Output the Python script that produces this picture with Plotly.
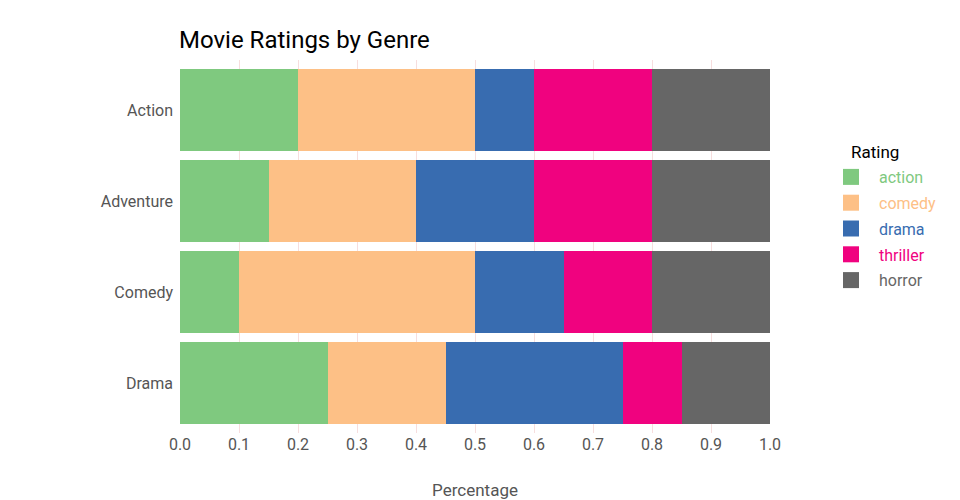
import plotly.graph_objects as go

genres = ["Action", "Adventure", "Comedy", "Drama"]
ratings = ["action", "comedy", "drama", "thriller", "horror"]
colors = ["#7fc97f", "#fdc086", "#386cb0", "#f0027f", "#666666"]
values = {
    "action":   [0.20, 0.15, 0.10, 0.25],
    "comedy":   [0.30, 0.25, 0.40, 0.20],
    "drama":    [0.10, 0.20, 0.15, 0.30],
    "thriller": [0.20, 0.20, 0.15, 0.10],
    "horror":   [0.20, 0.20, 0.20, 0.15],
}
x_ticks = [0.0, 0.1, 0.2, 0.3, 0.4, 0.5, 0.6, 0.7, 0.8, 0.9, 1.0]

FONT = "Roboto, sans-serif"
L, R, T, B = 180, 190, 60, 67
PW = 960 - L - R
PH = 500 - T - B

fig = go.Figure()
for r, c in zip(ratings, colors):
    fig.add_trace(go.Bar(
        y=genres, x=values[r], orientation="h", name=r, showlegend=False,
        marker=dict(color=c, line=dict(width=0)),
    ))
for r, c in zip(ratings, colors):
    fig.add_trace(go.Scatter(
        x=[None], y=[None], mode="markers", legendgroup=r,
        name=f'<span style="color:{c}">{r}</span>',
        marker=dict(color=c, symbol="square", size=16),
    ))

fig.add_annotation(text="Rating", xref="paper", yref="paper",
                   x=(849 - L) / PW, y=1 - (152 - T) / PH,
                   xanchor="left", yanchor="middle", showarrow=False,
                   font=dict(family=FONT, size=17, color="#000000"))

fig.update_layout(
    width=960, height=500,
    barmode="stack", bargap=0.1,
    paper_bgcolor="white", plot_bgcolor="white",
    font=dict(family=FONT, color="#555555", size=16),
    margin=dict(l=L, r=R, t=T, b=B),
    title=dict(text="Movie Ratings by Genre", x=179/960, xanchor="left",
               y=1 - 40/500, yanchor="middle",
               font=dict(family=FONT, size=24, color="#000000")),
    xaxis=dict(range=[0, 1], tickvals=x_ticks, ticktext=[f"{v:.1f}" for v in x_ticks],
               showgrid=True, gridcolor="#f7dede", gridwidth=1, zeroline=False,
               showline=False, ticks="", automargin=False,
               title=dict(text="Percentage", standoff=36,
                          font=dict(size=17, color="#555555"))),
    yaxis=dict(categoryorder="array", categoryarray=genres[::-1], showgrid=False,
               range=[-0.55, 3.55], automargin=False,
               ticks="", ticklabelstandoff=6, showline=False, zeroline=False),
    legend=dict(x=(823 - L) / PW, xanchor="left", y=1 - (160 - T) / PH,
                yanchor="top", traceorder="grouped", itemwidth=46,
                font=dict(family=FONT, size=16), tracegroupgap=2,
                bgcolor="rgba(0,0,0,0)"),
)

fig.write_html("out.html", config={"displayModeBar": False},
               post_script="document.body.style.margin='0';")
